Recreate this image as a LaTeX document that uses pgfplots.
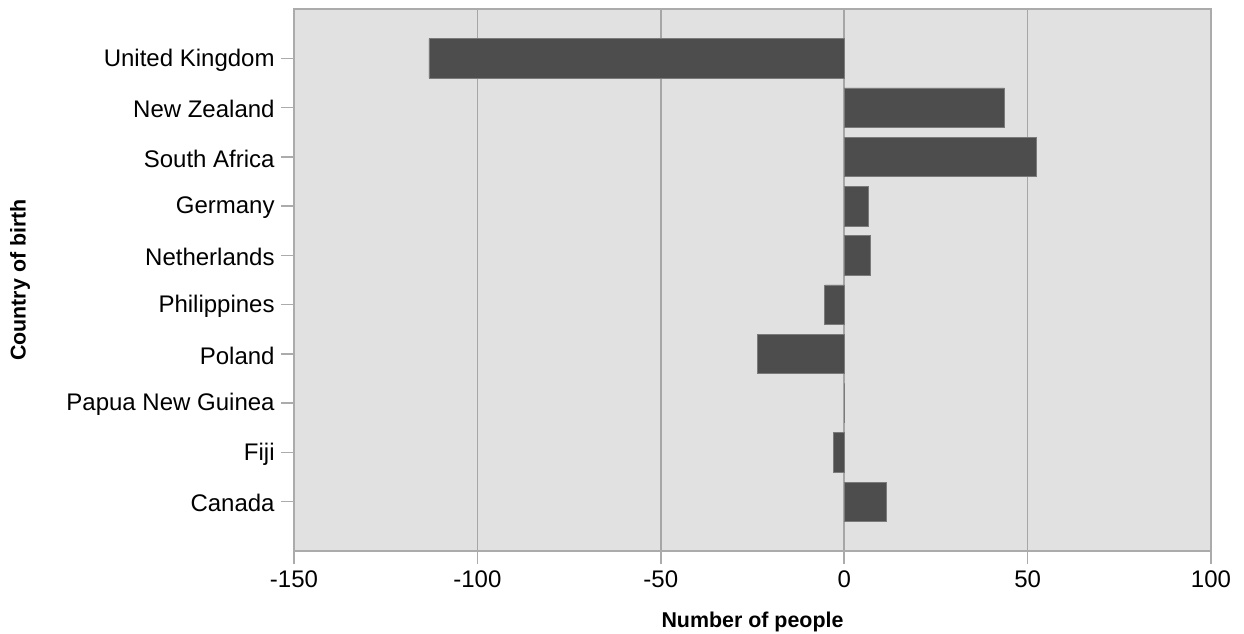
\documentclass[border=0pt]{standalone}
\usepackage{fontspec}
\setmainfont{Liberation Sans}
\usepackage{graphicx}
\usepackage{pgfplots}
\pgfplotsset{compat=1.18}
\definecolor{bgc}{HTML}{E1E1E1}
\definecolor{gridc}{HTML}{A6A6A6}
\definecolor{axc}{HTML}{ABABAB}
\definecolor{barc}{HTML}{4D4D4D}
\definecolor{baredge}{HTML}{7A7A7A}
\begin{document}
\begin{tikzpicture}
\begin{axis}[
  scale only axis, width=458.5pt, height=271pt,
  xmin=-150, xmax=100, ymin=-1, ymax=10, y dir=reverse,
  xbar, bar width=0.8, bar shift=0pt,
  axis background/.style={fill=bgc},
  xtick={-150,-100,-50,0,50,100},
  ytick={0,1,2,3,4,5,6,7,8,9},
  yticklabels={United Kingdom,New Zealand,South Africa,Germany,Netherlands,Philippines,Poland,Papua New Guinea,Fiji,Canada},
  xmajorgrids, major grid style={color=gridc, line width=0.75pt},
  tick align=outside, major tick length=6.5pt,
  xtick pos=bottom, ytick pos=left,
  tick style={color=axc, line width=0.75pt},
  axis line style={color=axc, line width=0.9pt},
  /pgf/number format/assume math mode=true,
  xticklabel style={font=\fontsize{12}{14}\selectfont, inner sep=0pt, yshift=-3pt},
  yticklabel style={font=\fontsize{12}{14}\selectfont, inner sep=0pt, xshift=-3pt, yshift=-0.8pt},
  xlabel={Number of people},
  ylabel={Country of birth},
  every axis x label/.style={at={(axis description cs:0.5,-0.13)}, anchor=center, font=\fontsize{10.7}{12}\selectfont\bfseries},
  every axis y label/.style={at={(axis description cs:-0.2988,0.5)}, rotate=90, anchor=center, font=\fontsize{10.7}{12}\selectfont\bfseries},
]
\addplot[fill=barc, draw=baredge, line width=0.3pt] coordinates {
  (-113.2,0) (43.7,1) (52.4,2) (6.6,3) (7.0,4) (-5.3,5) (-23.6,6) (0,7) (-2.9,8) (11.4,9)
};
\coordinate (SW) at (rel axis cs:0,0);
\coordinate (NE) at (rel axis cs:1,1);
\end{axis}
\pgfresetboundingbox
\path[use as bounding box] ([xshift=-147pt,yshift=-41pt]SW) rectangle ([xshift=16.5pt,yshift=4.5pt]NE);
\end{tikzpicture}
\end{document}
